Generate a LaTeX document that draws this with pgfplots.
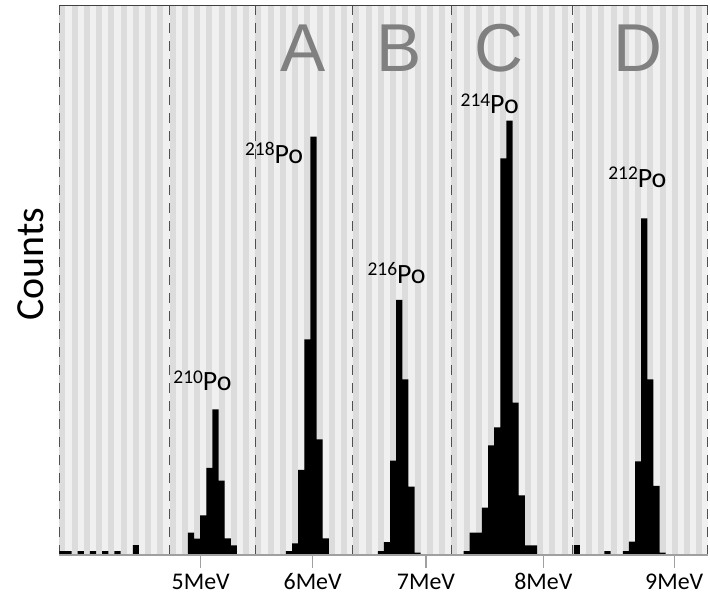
\documentclass[border=0pt]{standalone}
\usepackage{pgfplots}
\pgfplotsset{compat=1.18}
\usepackage{fontspec}
\setmainfont{Carlito}
\newfontfamily\arialfont{Liberation Sans}

\definecolor{stripeA}{RGB}{220,220,220}
\definecolor{stripeB}{RGB}{240,240,240}
\definecolor{lettergray}{RGB}{128,128,128}
\definecolor{axgray}{RGB}{160,160,160}
\definecolor{dashgray}{RGB}{80,80,80}

% isotope label: superscript mass number + Po
\newcommand{\po}[1]{{\fontsize{19.5}{19.5}\selectfont\raisebox{7.5bp}{#1}}{\fontsize{28}{28}\selectfont Po}}
\newcommand{\region}[1]{{\arialfont\fontsize{68}{68}\selectfont #1}}

\begin{document}
\begin{tikzpicture}
\begin{axis}[
    scale only axis,
    width=648.4bp, height=549.5bp,
    xmin=0, xmax=105.86, ymin=0, ymax=549.5,
    axis line style={draw=none},
    ytick=\empty,
    xtick={23.09,41.37,59.87,79.02,100.4},
    xticklabels={5MeV,6MeV,7MeV,8MeV,9MeV},
    xtick pos=left, tick align=outside,
    major tick length=13bp,
    tick style={axgray, line width=1.3bp},
    xticklabel style={font=\fontsize{24}{24}\selectfont, inner sep=0pt, anchor=north,
        text height=16bp, text depth=0pt, yshift=-5bp},
    clip=false,
]
% background stripes, one per bin
\fill[stripeB] (rel axis cs:0,0) rectangle (rel axis cs:1,1);
\pgfplotsinvokeforeach{0,2,...,104}{
    \fill[stripeA] (axis cs:#1,0) rectangle ++(axis direction cs:1,549.5);
}
% dashed separators
\pgfplotsinvokeforeach{0,18,32,47.9,64.05,83.8,105.86}{
    \draw[dashgray, line width=1.2bp, dash pattern=on 10bp off 8bp] (axis cs:#1,0) -- (axis cs:#1,549.5);
}

% histogram (bin centres, counts)
\addplot[ybar, bar width=1, bar shift=0pt, fill=black, draw=none] coordinates {
    (0.5,4) (1.5,4) (3.5,4) (5.5,4) (7.5,4) (9.5,4) (12.5,10)
    (21.5,22.3) (22.5,16.3) (23.5,39.7) (24.5,87) (25.5,145.7) (26.5,74.3) (27.5,16.7) (28.5,9.7)
    (37.5,4) (38.5,11.7) (39.5,85) (40.5,215.7) (41.5,418.3) (42.5,115.7) (43.5,16.7)
    (52.5,4) (53.5,13) (54.5,94.3) (55.5,255) (56.5,175.7) (57.5,68.3) (58.5,2.3)
    (66.5,4) (67.5,22.3) (68.5,22.3) (69.5,47.3) (70.5,109.7) (71.5,127.7) (72.5,396.7)
    (73.5,434.3) (74.5,152.3) (75.5,59.7) (76.5,9.7) (77.5,9.7)
    (84.5,10) (89.5,4)
    (92.5,4) (93.5,13.3) (94.5,93.7) (95.5,336.7) (96.5,175.7) (97.5,69) (98.5,2.3)
};

\draw[black!75, line width=1bp] (rel axis cs:0,1) -- (rel axis cs:1,1);
\draw[axgray, line width=1.5bp] (rel axis cs:0,0) -- (rel axis cs:1,0);

\node[anchor=base, inner sep=0pt, text=lettergray] at (axis cs:39.8,483) {\region{A}};
\node[anchor=base, inner sep=0pt, text=lettergray] at (axis cs:55.5,483) {\region{B}};
\node[anchor=base, inner sep=0pt, text=lettergray] at (axis cs:71.8,483) {\region{C}};
\node[anchor=base, inner sep=0pt, text=lettergray] at (axis cs:94.5,483) {\region{D}};

\node[anchor=base west, inner sep=0pt] at (axis cs:18.6,164.3) {\po{210}};
\node[anchor=base west, inner sep=0pt] at (axis cs:30.3,391.7) {\po{218}};
\node[anchor=base west, inner sep=0pt] at (axis cs:50.3,271.7) {\po{216}};
\node[anchor=base west, inner sep=0pt] at (axis cs:65.5,441) {\po{214}};
\node[anchor=base west, inner sep=0pt] at (axis cs:89.6,367.7) {\po{212}};

\node[rotate=90, font=\fontsize{40}{40}\selectfont] at (axis cs:-4.70,291) {Counts};

\coordinate (ll) at (rel axis cs:0,0);
\coordinate (ur) at (rel axis cs:1,1);
\end{axis}
\pgfresetboundingbox
\path[use as bounding box] ([shift={(-59.3bp,-40bp)}]ll) rectangle ([shift={(2.3bp,5.5bp)}]ur);
\end{tikzpicture}
\end{document}
